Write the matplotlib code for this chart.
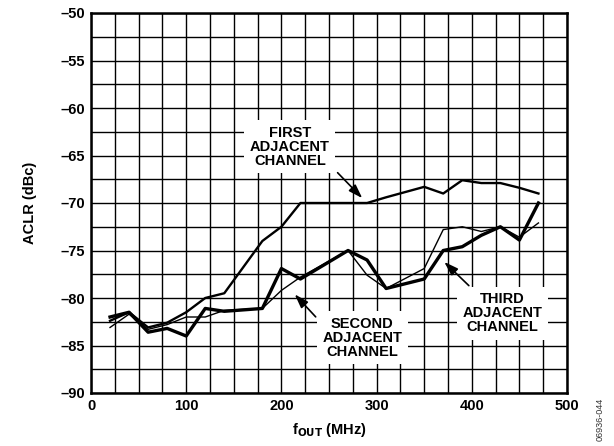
import numpy as np
import matplotlib.pyplot as plt
from matplotlib.ticker import MultipleLocator, FuncFormatter

plt.rcParams['font.family'] = ['Liberation Sans', 'DejaVu Sans']
plt.rcParams['font.weight'] = 'bold'

# frequenze (MHz)
f = [20, 40, 60, 80, 100, 120, 140, 180, 200, 220, 270, 290, 310, 350, 370, 390, 410, 430, 450, 470]
# ACLR (dBc)
first = [-82.4, -81.5, -83.1, -82.6, -81.5, -80.0, -79.5, -74.0, -72.5, -70.0, -70.0, -70.0,
         -69.4, -68.3, -69.0, -67.6, -67.9, -67.9, -68.4, -69.0]
second = [-82.0, -81.5, -83.6, -83.2, -84.0, -81.1, -81.4, -81.1, -76.9, -78.0, -75.0, -76.0,
          -79.0, -78.0, -75.0, -74.6, -73.4, -72.5, -73.9, -70.0]
third = [-83.1, -81.7, -83.3, -82.8, -82.0, -82.0, -81.3, -81.1, -79.2, -77.8, -75.0, -77.6,
         -79.0, -76.9, -72.8, -72.5, -73.0, -72.5, -73.6, -72.1]

fig = plt.figure(figsize=(6.14, 4.46), dpi=100)
ax = fig.add_axes([91/614, 1-393/446, 476/614, 380/446])

ax.plot(f, first, color='black', lw=1.7, zorder=3)
ax.plot(f, third, color='black', lw=1.0, zorder=3)
ax.plot(f, second, color='black', lw=2.4, zorder=3)

ax.set_xlim(0, 500)
ax.set_ylim(-90, -50)
ax.xaxis.set_major_locator(MultipleLocator(100))
ax.xaxis.set_minor_locator(MultipleLocator(25))
ax.yaxis.set_major_locator(MultipleLocator(5))
ax.yaxis.set_minor_locator(MultipleLocator(2.5))
ax.yaxis.set_major_formatter(FuncFormatter(lambda v, p: '%d' % round(v) if v >= 0 else '\u2013%d' % round(-v)))
ax.grid(which='both', color='black', lw=1.0)
ax.set_axisbelow(True)
ax.tick_params(which='both', length=0, labelsize=10.5, pad=4)
for s in ax.spines.values():
    s.set_linewidth(1.8)

ax.set_xlabel(r'f$_{\mathbf{OUT}}$ (MHz)', fontsize=10.5, fontweight='bold', labelpad=6)
ax.set_ylabel('ACLR (dBc)', fontsize=10.5, fontweight='bold', labelpad=17)

box = dict(facecolor='white', edgecolor='none', pad=4)
arr = dict(arrowstyle='-|>,head_length=0.6,head_width=0.2', color='black', lw=1.2, mutation_scale=14)

ax.text(209, -64.1, 'FIRST\nADJACENT\nCHANNEL', ha='center', va='center', fontsize=10.5,
        fontweight='bold', linespacing=1.0, bbox=box, zorder=4)
ax.annotate('', xy=(287, -69.7), xytext=(257, -66.6), arrowprops=arr, zorder=4)

ax.text(285, -84.2, 'SECOND\nADJACENT\nCHANNEL', ha='center', va='center', fontsize=10.5,
        fontweight='bold', linespacing=1.0, bbox=box, zorder=4)
ax.annotate('', xy=(212, -79.4), xytext=(238, -82.2), arrowprops=arr, zorder=4)

ax.text(432, -81.6, 'THIRD\nADJACENT\nCHANNEL', ha='center', va='center', fontsize=10.5,
        fontweight='bold', linespacing=1.0, bbox=box, zorder=4)
ax.annotate('', xy=(369, -76.0), xytext=(399, -78.9), arrowprops=arr, zorder=4)

fig.text(600/614, 1-398/446, '06936-044', rotation=90, ha='center', va='top',
         fontsize=6.5, fontweight='normal', color='#333333')

fig.savefig('out.png', dpi=100)
